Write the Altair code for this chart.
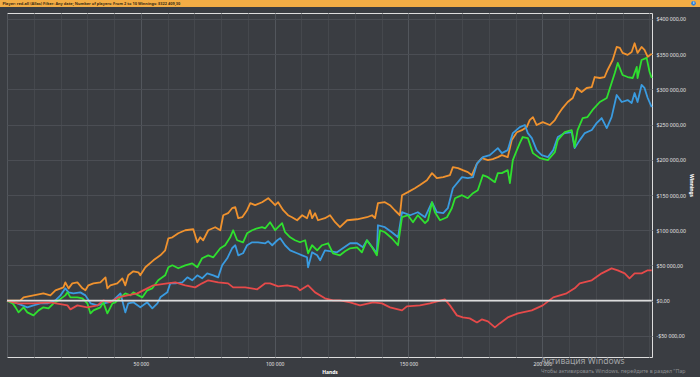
import altair as alt
import pandas as pd

# ---- data (hands in thousands, winnings in thousands of $) ----
ORANGE_HANDS = [0, 5.0, 6.2, 9.9, 13.6, 16.2, 18.1, 21.1, 21.8, 23.0,
                24.4, 26.3, 28.2, 29.3, 30.4, 32.3, 34.9, 36.8, 37.5, 38.6,
                41.2, 43.1, 44.2, 45.3, 47.2, 49.1, 49.8, 51.7, 54.7, 57.3,
                59.1, 60.3, 61.8, 64.0, 66.6, 69.6, 71.1, 72.2, 73.3, 75.2,
                77.8, 79.7, 80.8, 82.6, 84.1, 85.3, 86.4, 87.9, 89.7, 90.9,
                92.7, 95.3, 97.6, 99.1, 100.2, 101.3, 103.2, 105.0, 106.5, 108.4,
                110.3, 112.1, 113.2, 114.0, 115.1, 116.2, 118.8, 120.7, 122.6, 124.4,
                127.1, 130.8, 134.5, 136.4, 137.5, 138.6, 141.2, 143.1, 144.9, 146.8,
                147.6, 149.8, 152.4, 154.3, 156.9, 158.8, 160.6, 163.0, 165.5, 166.6,
                168.5, 170.3, 172.2, 173.7, 175.6, 177.4, 179.7, 181.5, 183.4, 184.9,
                187.1, 188.6, 190.5, 192.4, 194.2, 195.3, 196.5, 197.9, 200.2, 202.8,
                204.7, 205.8, 207.6, 209.5, 211.4, 212.9, 214.7, 216.6, 218.5, 219.6,
                221.5, 223.3, 224.4, 226.3, 227.8, 229.0, 230.0, 231.9, 233.4, 234.5,
                235.6, 237.1, 238.2, 239.4, 240.9]
ORANGE_VALUES = [0, 0.4, 4.7, 7.5, 10.4, 7.5, 14.7, 18.9, 26.0, 17.5,
                 24.6, 26.0, 17.5, 14.7, 21.8, 24.6, 26.0, 33.1, 17.5, 21.8,
                 24.6, 31.7, 21.8, 36.0, 41.7, 40.3, 36.0, 47.4, 57.3, 64.4,
                 71.5, 88.6, 90.0, 95.7, 100.0, 101.4, 82.9, 90.0, 85.8, 100.0,
                 104.3, 100.0, 121.3, 124.2, 131.3, 132.7, 117.1, 118.5, 128.4, 138.4,
                 135.6, 139.8, 145.5, 139.8, 135.6, 139.8, 128.4, 121.3, 118.5, 114.2,
                 121.3, 117.1, 128.4, 117.1, 124.2, 114.2, 117.1, 121.3, 111.4, 104.3,
                 114.2, 115.6, 118.5, 121.3, 117.1, 138.4, 139.8, 135.6, 128.4, 121.3,
                 149.8, 154.1, 159.7, 164.1, 171.1, 181.1, 174.0, 175.4, 178.2, 189.6,
                 188.2, 185.3, 182.5, 178.2, 194.7, 202.4, 199.6, 201.0, 203.8, 206.7,
                 203.8, 228.0, 239.2, 242.1, 246.5, 256.5, 260.7, 249.4, 253.6, 249.4,
                 256.5, 263.6, 273.5, 282.1, 287.8, 302.0, 296.3, 302.0, 303.4, 317.6,
                 316.2, 317.6, 327.6, 341.8, 360.3, 358.9, 351.8, 349.0, 353.2, 365.5,
                 351.8, 360.3, 356.1, 346.2, 350.5]

GREEN_HANDS = [0, 2.1, 3.2, 4.3, 6.2, 7.6, 9.9, 11.8, 13.6, 15.5,
               17.4, 19.2, 21.8, 22.6, 23.7, 26.3, 28.2, 30.0, 31.2, 32.3,
               34.9, 36.0, 37.5, 39.4, 40.5, 42.4, 44.2, 46.1, 47.2, 49.1,
               50.6, 52.4, 54.3, 56.5, 59.1, 60.3, 61.8, 64.0, 66.6, 69.2,
               71.1, 72.9, 75.2, 77.1, 79.7, 81.5, 83.4, 84.5, 86.0, 88.2,
               89.7, 91.6, 93.5, 95.3, 96.5, 98.3, 100.2, 101.3, 102.8, 103.9,
               105.8, 107.6, 109.5, 111.4, 112.5, 114.0, 115.9, 117.7, 120.0, 121.8,
               124.4, 126.3, 128.2, 130.8, 132.6, 134.5, 136.4, 138.2, 139.4, 141.2,
               143.8, 146.1, 147.6, 149.8, 151.7, 153.5, 156.2, 157.3, 158.8, 159.9,
               161.8, 164.4, 166.2, 167.4, 170.0, 172.2, 174.1, 175.9, 177.8, 179.7,
               182.3, 183.4, 184.9, 187.1, 187.9, 189.0, 190.5, 191.6, 192.7, 194.6,
               196.5, 199.1, 202.1, 204.7, 205.8, 208.4, 211.0, 212.1, 213.2, 215.1,
               216.9, 218.8, 221.5, 224.1, 225.9, 227.1, 228.2, 230.0, 231.9, 233.8,
               235.3, 235.6, 237.1, 239.0, 240.1, 240.9]
GREEN_VALUES = [0, -3.8, -9.5, -16.6, -9.5, -16.6, -20.9, -13.8, -9.5, -11.0,
                -3.8, 0.4, 7.5, 11.8, 4.7, 4.7, 3.3, -3.8, -18.1, -13.8,
                -9.5, -2.4, -18.1, -3.8, -2.4, 4.7, 10.4, 7.5, 11.8, 7.5,
                4.7, 14.7, 17.5, 28.9, 36.0, 47.4, 50.2, 46.0, 50.2, 53.0,
                47.4, 60.2, 64.4, 61.6, 74.4, 78.7, 90.0, 100.0, 85.8, 82.9,
                95.7, 100.0, 102.8, 104.3, 102.8, 111.4, 100.0, 104.3, 110.0, 97.2,
                90.0, 85.8, 82.9, 85.8, 67.3, 78.7, 71.5, 78.7, 81.5, 67.3,
                64.4, 70.1, 74.4, 75.8, 68.7, 85.8, 75.8, 64.4, 100.0, 97.2,
                88.6, 78.7, 118.5, 121.3, 111.4, 121.3, 110.0, 114.2, 139.8, 125.6,
                114.2, 118.5, 131.3, 145.5, 149.8, 145.5, 152.6, 156.9, 178.2, 175.4,
                168.3, 181.1, 181.1, 185.3, 167.0, 199.6, 213.8, 223.8, 232.4, 230.9,
                209.5, 202.4, 199.6, 211.0, 228.0, 239.2, 242.1, 218.2, 242.1, 259.3,
                260.7, 270.8, 282.1, 287.8, 309.1, 323.3, 337.6, 320.5, 317.6, 316.2,
                331.9, 316.2, 341.8, 344.7, 324.8, 316.2]

BLUE_HANDS = [0, 3.9, 7.6, 9.9, 12.5, 15.1, 18.1, 20.0, 21.8, 23.0,
              24.8, 27.4, 29.3, 31.2, 33.8, 36.0, 37.9, 39.7, 42.4, 44.2,
              45.3, 47.2, 49.8, 52.4, 54.3, 56.2, 57.3, 59.9, 61.0, 62.9,
              65.5, 67.4, 69.2, 71.1, 72.9, 74.8, 77.1, 78.9, 80.4, 82.3,
              84.1, 85.3, 86.4, 88.2, 89.7, 91.6, 93.8, 96.5, 97.6, 99.1,
              101.0, 102.1, 103.9, 105.8, 108.4, 110.3, 112.1, 112.5, 114.0, 115.9,
              117.0, 118.8, 123.3, 128.2, 130.8, 133.0, 134.5, 136.8, 138.2, 138.6,
              141.2, 143.8, 146.1, 147.6, 150.6, 153.5, 156.2, 158.8, 160.6, 163.0,
              164.7, 166.6, 170.0, 172.2, 174.1, 175.6, 177.8, 180.4, 183.4, 184.9,
              187.1, 189.0, 191.6, 193.5, 194.6, 196.1, 197.9, 199.8, 202.1, 204.1,
              205.8, 208.4, 211.0, 212.1, 214.0, 215.9, 218.5, 220.3, 222.2, 224.1,
              225.9, 227.8, 229.7, 231.9, 233.4, 234.5, 235.6, 237.1, 238.2, 239.4,
              240.9]
BLUE_VALUES = [0, -3.8, -9.5, -6.7, -3.8, -3.8, 0.4, 7.5, 17.5, 11.8,
               10.4, 11.8, 7.5, -3.8, -6.7, -3.8, -2.4, 0.4, 10.4, -16.6,
               -3.8, -2.4, -9.5, -2.4, -11.0, -3.8, 4.7, 11.8, 24.6, 24.6,
               26.0, 33.1, 28.9, 36.0, 31.7, 38.8, 36.0, 33.1, 50.2, 60.2,
               74.4, 78.7, 64.4, 67.3, 78.7, 82.9, 82.9, 81.5, 84.3, 78.7,
               85.8, 88.6, 78.7, 71.5, 67.3, 64.4, 61.6, 47.4, 68.7, 64.4,
               57.3, 71.5, 68.7, 81.5, 81.5, 75.8, 85.8, 74.4, 67.3, 107.1,
               104.3, 97.2, 90.0, 125.6, 121.3, 125.6, 118.5, 139.8, 125.6, 124.2,
               131.3, 159.7, 175.4, 174.0, 175.4, 194.7, 203.8, 206.7, 216.6, 209.5,
               213.8, 238.0, 246.5, 249.4, 238.0, 230.9, 213.8, 206.7, 203.8, 213.8,
               232.3, 238.0, 239.4, 216.6, 228.0, 238.0, 242.3, 252.1, 259.3, 245.1,
               260.7, 292.0, 282.1, 284.9, 280.7, 294.9, 282.1, 306.3, 302.0, 287.8,
               275.0]

RED_HANDS = [0, 3.9, 9.9, 16.2, 22.6, 23.7, 26.3, 30.0, 33.8, 36.0,
             38.6, 41.6, 45.0, 48.7, 52.4, 54.7, 59.9, 62.9, 66.6, 70.3,
             72.9, 75.2, 78.9, 82.6, 84.5, 89.0, 93.5, 96.5, 98.3, 101.3,
             104.7, 108.4, 109.5, 112.5, 115.1, 118.8, 121.8, 124.4, 128.2, 131.9,
             136.8, 140.1, 143.1, 147.6, 149.4, 154.3, 158.0, 163.6, 165.5, 168.1,
             170.3, 172.9, 175.6, 177.4, 179.7, 182.3, 184.1, 187.1, 190.9, 196.1,
             200.2, 204.1, 209.1, 212.1, 214.0, 218.5, 222.2, 225.9, 228.2, 230.8,
             232.6, 234.5, 237.1, 239.4, 240.9]
RED_VALUES = [0, -3.8, -3.8, -2.4, -6.7, -12.4, -6.7, -9.5, -6.7, 0.4,
              -2.4, 4.7, 7.5, 10.4, 17.5, 21.8, 24.6, 26.0, 21.8, 18.9,
              24.6, 28.9, 26.0, 24.6, 18.9, 18.9, 16.1, 24.6, 24.6, 20.3,
              21.8, 18.9, 14.7, 21.8, 11.8, 3.3, 0.4, 0.4, -2.4, -6.7,
              -2.4, -3.8, -9.5, -13.8, -8.1, -6.7, -3.8, 1.8, -6.7, -20.9,
              -23.8, -25.2, -30.9, -26.6, -29.4, -38.0, -32.3, -23.8, -18.1, -13.8,
              -6.7, 4.7, 10.4, 17.5, 24.6, 28.9, 38.8, 45.9, 43.1, 38.8,
              31.7, 38.8, 38.8, 43.1, 43.1]

ZERO_HANDS = [0, 240.9]
ZERO_VALUES = [0, 0]

SERIES = ["All-in EV", "Showdown", "Net won", "Non-showdown", "zero"]
COLORS = ["#f0922e", "#3a9be0", "#2fe02f", "#e64a4a", "#dcdcdc"]
WIDTHS = [1.8, 1.8, 1.8, 1.8, 2.5]

X_GRID = list(range(0, 241000, 10000))
Y_TICKS = list(range(-50000, 400001, 50000))

HEADER_TEXT = "Player: red-all (Allas)  Filter: Any date; Number of players: From 2 to 10  Winnings: $322 409,30"


def frame(h, v, name):
    return pd.DataFrame({"hands": [a * 1000 for a in h],
                         "winnings": [b * 1000 for b in v],
                         "series": name})


df = pd.concat([
    frame(ORANGE_HANDS, ORANGE_VALUES, SERIES[0]),
    frame(BLUE_HANDS, BLUE_VALUES, SERIES[1]),
    frame(GREEN_HANDS, GREEN_VALUES, SERIES[2]),
    frame(RED_HANDS, RED_VALUES, SERIES[3]),
    frame(ZERO_HANDS, ZERO_VALUES, SERIES[4]),
], ignore_index=True)

FONT = "Noto Sans"

x_enc = alt.X(
    "hands:Q",
    scale=alt.Scale(domain=[0, 241000], nice=False, zero=False),
    axis=alt.Axis(
        values=X_GRID, labelOverlap=False, labelBound=False, labelFlush=False,
        labelExpr="datum.value % 50000 === 0 && datum.value > 0 ? replace(format(datum.value, ','), ',', ' ') : ''",
        title="Hands", titleColor="#ffffff", titleFontSize=5, titleFontWeight="bold",
        titlePadding=3, labelColor="#e6e6e6", labelFontSize=5, labelPadding=4,
        labelFont=FONT, titleFont=FONT,
        grid=True,
        gridColor={"condition": {"test": "datum.value % 50000 === 0", "value": "#52565c"},
                   "value": "#45484d"},
        gridWidth=1, domain=False, ticks=False,
    ),
)
y_enc = alt.Y(
    "winnings:Q",
    scale=alt.Scale(domain=[-80000, 408500], nice=False, zero=False),
    axis=alt.Axis(
        orient="right", values=Y_TICKS, labelOverlap=False, labelBound=False, labelFlush=False,
        labelExpr="(datum.value < 0 ? '-' : '') + '$' + replace(replace(format(abs(datum.value), ',.2f'), ',', ' '), '.', ',')",
        title="Winnings", titleColor="#ffffff", titleFontSize=5, titleFontWeight="bold",
        titlePadding=3, labelColor="#e6e6e6", labelFontSize=5.2, labelPadding=4,
        labelFont=FONT, titleFont=FONT,
        grid=True, gridColor="#4b4e54", gridWidth=1, domain=False, ticks=False,
    ),
)

lines = alt.Chart(df).mark_line(strokeJoin="round").encode(
    x=x_enc,
    y=y_enc,
    color=alt.Color("series:N", scale=alt.Scale(domain=SERIES, range=COLORS), legend=None),
    strokeWidth=alt.StrokeWidth("series:N", scale=alt.Scale(domain=SERIES, range=WIDTHS), legend=None),
    order="hands:Q",
)

one = pd.DataFrame({"k": [0]})
header_bar = alt.Chart(one).mark_rect(color="#f3ad45").encode(
    x=alt.value(-7), x2=alt.value(693), y=alt.value(-13), y2=alt.value(-6))
header_text = alt.Chart(one).mark_text(
    text=HEADER_TEXT, align="left", baseline="middle", fontSize=3.9,
    fontWeight="bold", color="#3a2c14", font=FONT
).encode(x=alt.value(-4.5), y=alt.value(-9.4))
info_dot = alt.Chart(one).mark_point(filled=True, color="#2d7fd8", size=22, opacity=1).encode(
    x=alt.value(686.5), y=alt.value(-9.7))
info_i = alt.Chart(one).mark_text(text="i", color="#ffffff", fontSize=4, fontWeight="bold",
                                  align="center", baseline="middle", font=FONT).encode(
    x=alt.value(686.5), y=alt.value(-9.7))

wm1 = alt.Chart(one).mark_text(text="Активация Windows", align="left", baseline="alphabetic",
                               fontSize=8.6, color="#a3a5a8", font=FONT).encode(
    x=alt.value(534), y=alt.value(350.5))
wm2 = alt.Chart(one).mark_text(text="Чтобы активировать Windows, перейдите в раздел \"Пар",
                               align="left", baseline="alphabetic",
                               fontSize=5.3, color="#8d8f92", font=FONT).encode(
    x=alt.value(534), y=alt.value(359.5))

chart = alt.layer(
    lines, header_bar, header_text, info_dot, info_i, wm1, wm2
).properties(
    width=645, height=344,
    autosize=alt.AutoSizeParams(type="none"),
    padding={"left": 7, "top": 13, "right": 48, "bottom": 20},
    background="#3a3d42",
).configure_view(
    fill="#3a3d42", stroke="#4d5056", strokeWidth=1
).configure(font=FONT)

chart.save("out.html", embed_options={"renderer": "svg", "actions": False})
